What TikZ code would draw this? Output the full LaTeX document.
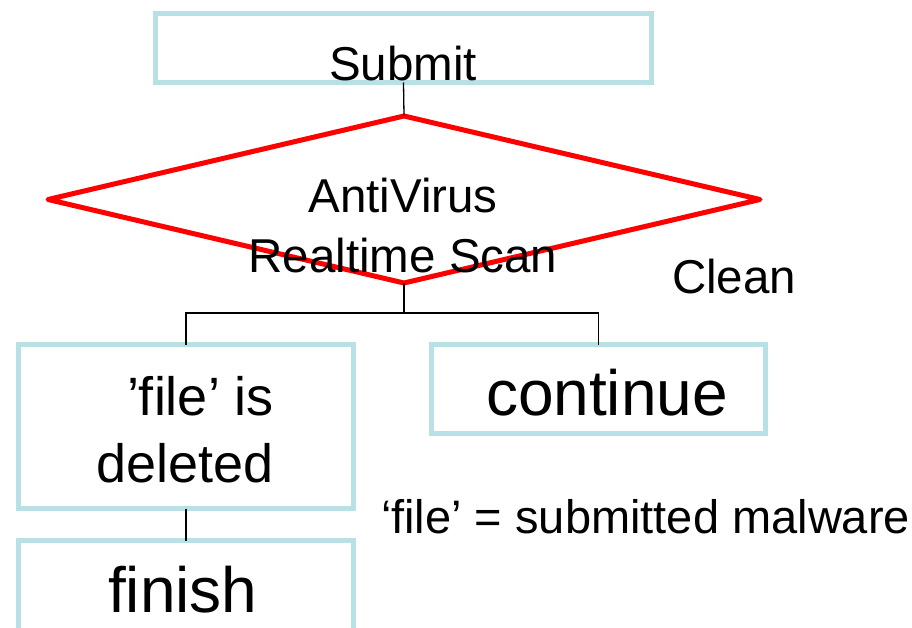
\documentclass[tikz,border=0pt]{standalone}
\usepackage{fontspec}
\setmainfont{Liberation Sans}
\usetikzlibrary{shapes.geometric}
\definecolor{boxblue}{RGB}{185,224,228}
\tikzset{
  flowbox/.style={draw=boxblue, line width=5pt, rectangle, inner sep=0pt, outer sep=0pt},
  decision/.style={draw=red, line width=5pt, line join=round, diamond, aspect=4.26, inner sep=0pt, outer sep=0pt},
  link/.style={draw=black, line width=1.3pt},
  txt/.style={inner sep=0pt, outer sep=0pt, text=black, font=\fontsize{47.5}{57}\selectfont},
  bigtxt/.style={inner sep=0pt, outer sep=0pt, text=black, font=\fontsize{64}{76}\selectfont}
}
\begin{document}
\begin{tikzpicture}[x=1pt, y=-1pt]
  \useasboundingbox (0,0) rectangle (912,628);
  \clip (0,0) rectangle (912,628);

  % boxes and decision
  \node[flowbox, minimum width=496pt, minimum height=69pt] (submit) at (403.5,48) {};
  \node[decision, minimum width=712pt, minimum height=167pt] (scan) at (404,199.5) {};
  \node[flowbox, minimum width=335pt, minimum height=164pt] (deleted) at (186,426.5) {};
  \node[flowbox, minimum width=334pt, minimum height=89pt] (cont) at (598.5,389) {};
  \node[flowbox, minimum width=335pt, minimum height=159pt] (finish) at (186,620) {};

  % labels
  \node[txt, anchor=base] (submitlbl) at (403,81) {Submit};
  \node[txt, anchor=base] (scanlbl1) at (403,213) {AntiVirus};
  \node[txt, anchor=base] (scanlbl2) at (403,272) {Realtime Scan};
  \node[txt, anchor=base west] (clean) at (672,293) {Clean};
  \node[txt, font=\fontsize{54}{64}\selectfont, anchor=base west] (dellbl1) at (127,415) {’file’ is};
  \node[txt, font=\fontsize{54}{64}\selectfont, anchor=base west] (dellbl2) at (96,482) {deleted};
  \node[bigtxt, anchor=base west] (contlbl) at (486,415) {continue};
  \node[txt, font=\fontsize{47}{56}\selectfont, anchor=base west] (note) at (381,533) {‘file’ = submitted malware};
  \node[bigtxt, anchor=base west] (finishlbl) at (108,612) {finish};

  % connectors
  \coordinate (split) at (scan.south |- 0,313);
  \draw[link] (submit.south) -- (scan.north);
  \draw[link] (scan.south) -- (split);
  \draw[link] (deleted.north) |- (split) -| (cont.north);
  \draw[link] (deleted.south) -- (finish.north);
\end{tikzpicture}
\end{document}
